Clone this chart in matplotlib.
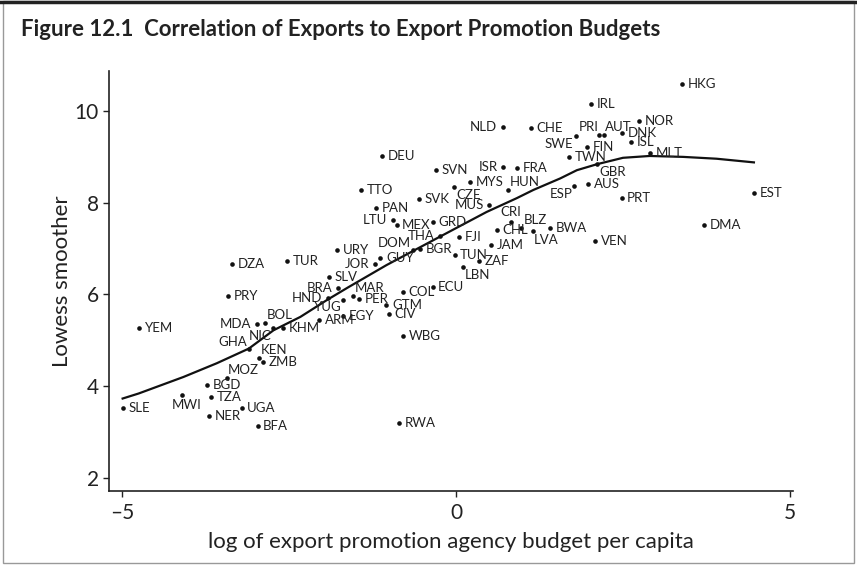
import numpy as np
import matplotlib.pyplot as plt
from matplotlib.patches import Rectangle

# country codes, log budget per capita, lowess smoothed exports
countries = ["HKG", "IRL", "NLD", "CHE", "PRI", "AUT", "NOR", "DNK", "SWE", "FIN",
             "ISL", "MLT", "ISR", "FRA", "TWN", "GBR", "DEU", "SVN", "MYS", "CZE",
             "HUN", "AUS", "ESP", "PRT", "EST", "TTO", "SVK", "MUS", "PAN", "LTU",
             "MEX", "GRD", "CRI", "BLZ", "BWA", "DMA", "CHL", "LVA", "VEN", "URY",
             "DOM", "THA", "FJI", "JAM", "TUR", "JOR", "GUY", "BGR", "TUN", "ZAF",
             "DZA", "SLV", "LBN", "BRA", "MAR", "ECU", "PRY", "HND", "COL", "PER",
             "YUG", "GTM", "EGY", "CIV", "ARM", "MDA", "BOL", "NIC", "KHM", "YEM",
             "WBG", "GHA", "KEN", "ZMB", "MOZ", "BGD", "MWI", "TZA", "UGA", "SLE",
             "NER", "BFA", "RWA"]
budget = [3.38, 2.02, 0.70, 1.12, 2.14, 2.21, 2.74, 2.49, 1.80, 1.96,
          2.62, 2.90, 0.71, 0.92, 1.69, 2.11, -1.10, -0.30, 0.21, -0.03,
          0.78, 1.98, 1.76, 2.48, 4.46, -1.42, -0.55, 0.50, -1.19, -0.94,
          -0.89, -0.35, 0.82, 0.97, 1.41, 3.71, 0.61, 1.16, 2.08, -1.78,
          -0.65, -0.24, 0.05, 0.53, -2.53, -1.21, -1.13, -0.54, -0.02, 0.34,
          -3.35, -1.90, 0.10, -1.76, -1.54, -0.35, -3.41, -1.92, -0.79, -1.45,
          -1.69, -1.04, -1.69, -1.01, -2.05, -2.98, -2.86, -2.74, -2.59, -4.74,
          -0.79, -3.10, -2.95, -2.89, -3.43, -3.73, -4.10, -3.67, -3.21, -4.99,
          -3.70, -2.97, -0.85]
exports = [10.60, 10.15, 9.66, 9.64, 9.47, 9.47, 9.78, 9.53, 9.45, 9.22,
           9.32, 9.08, 8.77, 8.76, 8.99, 8.84, 9.02, 8.72, 8.45, 8.34,
           8.28, 8.41, 8.36, 8.11, 8.22, 8.28, 8.08, 7.94, 7.88, 7.62,
           7.51, 7.59, 7.58, 7.46, 7.45, 7.51, 7.40, 7.38, 7.17, 6.96,
           6.98, 7.27, 7.26, 7.08, 6.74, 6.67, 6.80, 6.99, 6.87, 6.73,
           6.66, 6.37, 6.59, 6.15, 5.97, 6.16, 5.97, 5.93, 6.05, 5.91,
           5.88, 5.77, 5.53, 5.57, 5.44, 5.35, 5.38, 5.26, 5.27, 5.27,
           5.09, 4.81, 4.61, 4.53, 4.17, 4.03, 3.81, 3.76, 3.52, 3.53,
           3.35, 3.14, 3.19]

lowess_x = [-4.99, -4.75, -4.08, -3.58, -3.10, -2.73, -2.33, -1.93, -1.62,
            -1.04, -0.24, 0.46, 0.91, 1.16, 1.56, 1.81, 2.11, 2.50, 2.90,
            3.40, 3.90, 4.46]
lowess_y = [3.73, 3.84, 4.20, 4.50, 4.82, 5.22, 5.51, 5.88, 6.15,
            6.64, 7.26, 7.80, 8.10, 8.28, 8.53, 8.71, 8.84, 8.98, 9.02,
            9.00, 8.96, 8.88]

# label clock positions (default 3 o'clock)
label_pos = {"NLD": 9, "ISR": 9, "SWE": 8, "PRI": 11, "AUT": 1, "GBR": 4,
             "ESP": 7, "CRI": 12, "BLZ": 2, "LVA": 5, "LBN": 4,
             "THA": 9, "DOM": 10, "JOR": 9, "MUS": 9, "HUN": 1, "CZE": 4,
             "LTU": 9, "BRA": 9, "HND": 9, "MAR": 1, "YUG": 7, "MDA": 9,
             "BOL": 1, "NIC": 7, "GHA": 10, "KEN": 1, "MOZ": 1, "MWI": 6}

clock = {
    3: ((4, 0), "left", "center"),
    9: ((-4, 0), "right", "center"),
    12: ((0, 3), "center", "bottom"),
    6: ((3, -3), "center", "top"),
    1: ((1, 1.5), "left", "bottom"),
    2: ((2, 1), "left", "bottom"),
    4: ((1.5, -1), "left", "top"),
    5: ((0, -2), "left", "top"),
    7: ((-1, -1), "right", "top"),
    8: ((-2, -1), "right", "top"),
    10: ((-1, 0.5), "right", "bottom"),
    11: ((0, 1.5), "right", "bottom"),
}

plt.rcParams['font.family'] = ['Lato', 'DejaVu Sans']

fig = plt.figure(figsize=(8.57, 5.65), dpi=100)
ax = fig.add_axes([0.1275, 0.1315, 0.7982, 0.7434])

ax.scatter(budget, exports, s=11, color="#111111", zorder=3, linewidths=0)
ax.plot(lowess_x, lowess_y, color="#111111", lw=1.6, zorder=2)

for c, xv, yv in zip(countries, budget, exports):
    off, ha, va = clock[label_pos.get(c, 3)]
    ax.annotate(c, (xv, yv), xytext=off, textcoords="offset points",
                ha=ha, va=va, fontsize=9.5, color="#222222")

ax.set_xlim(-5.19, 5.05)
ax.set_ylim(1.72, 10.88)
ax.set_xticks([-5, 0, 5])
ax.set_yticks([2, 4, 6, 8, 10])
ax.set_xticklabels(["\u20135", "0", "5"])
ax.tick_params(labelsize=15, length=4, width=1, color="#222222", labelcolor="#222222")
ax.tick_params(axis="x", pad=5)
ax.spines["top"].set_visible(False)
ax.spines["right"].set_visible(False)
for s in ["left", "bottom"]:
    ax.spines[s].set_linewidth(1.2)
    ax.spines[s].set_color("#222222")

ax.set_xlabel("log of export promotion agency budget per capita", fontsize=16,
              color="#222222", labelpad=6)
ax.set_ylabel("Lowess smoother", fontsize=16, color="#222222", labelpad=2)

fig.text(0.025, 0.948, "Figure 12.1  Correlation of Exports to Export Promotion Budgets",
         fontsize=16, fontweight="bold", color="#222222", va="center")

# frame around the figure
fig.patches.append(Rectangle((0.004, 0.004), 0.993, 0.994, transform=fig.transFigure,
                             fill=False, edgecolor="#999999", lw=1))
fig.add_artist(plt.Line2D([0, 1], [0.997, 0.997], transform=fig.transFigure,
                          color="#222222", lw=2.5))

fig.savefig("out.png", dpi=100)
